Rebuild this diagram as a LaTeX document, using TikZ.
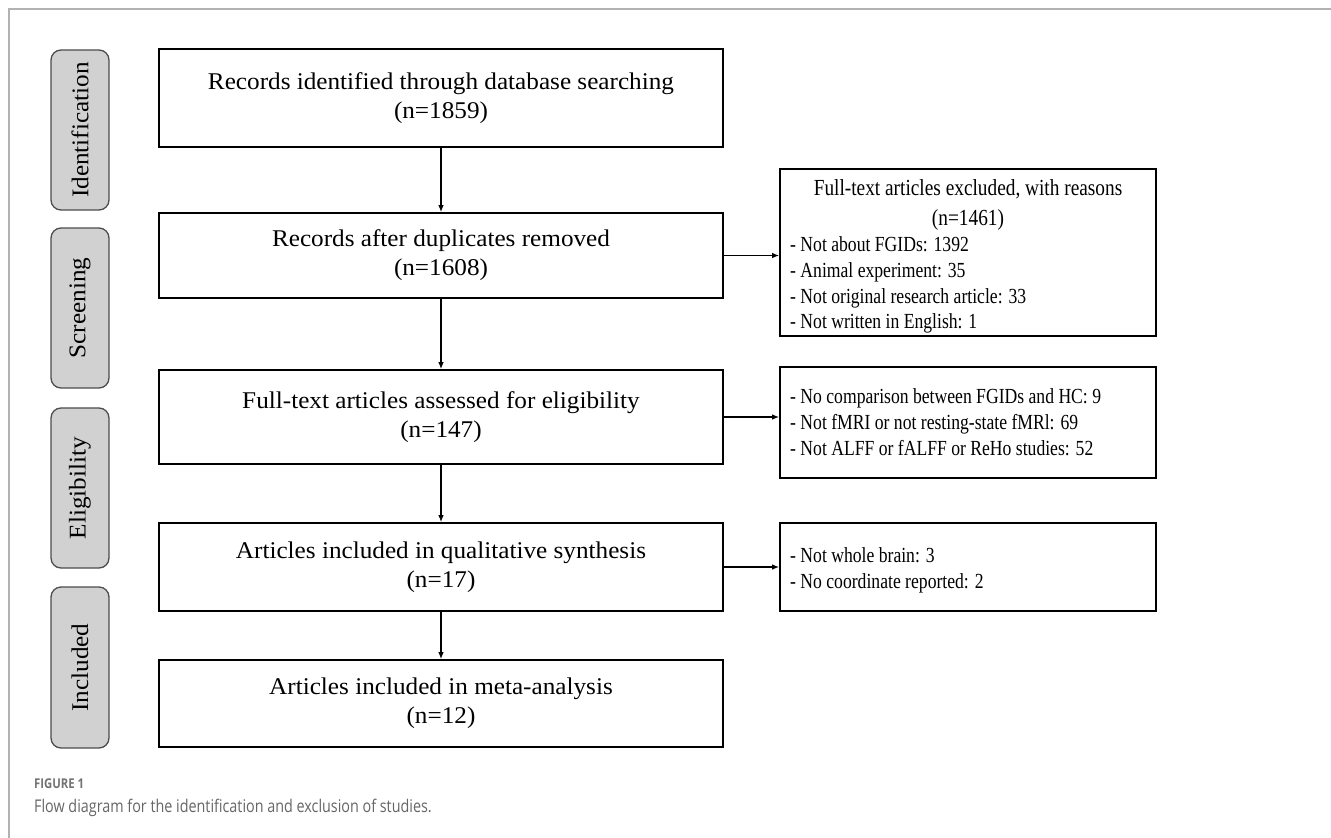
\documentclass[tikz,border=0pt]{standalone}
\usepackage{fontspec}
\setmainfont{Liberation Serif}
\newfontfamily\mainf[FakeStretch=1.05]{Liberation Serif}
\newfontfamily\sidef[FakeStretch=0.82]{Liberation Serif}
\newfontfamily\titf[FakeStretch=0.84]{Liberation Serif}
\newfontfamily\capf[FakeStretch=0.82]{Open Sans}
\newfontfamily\figf[FakeStretch=0.84]{Open Sans}
\usetikzlibrary{arrows.meta}
\begin{document}
\begin{tikzpicture}[x=1pt,y=-1pt,
  stage/.style={draw=black!70, fill=black!18, rounded corners=10pt, line width=1.3pt,
    rotate=90, inner sep=0pt, font=\mainf\fontsize{24}{28}\selectfont},
  mainbox/.style={draw, line width=1.6pt, align=center, inner sep=0pt,
    font=\mainf\fontsize{24}{29}\selectfont},
  sidebox/.style={draw, line width=1.6pt, inner sep=0pt},
  sideline/.style={anchor=base west, inner sep=0pt, font=\sidef\fontsize{21.5}{25}\selectfont},
  sidetitle/.style={anchor=base, inner sep=0pt, font=\titf\fontsize{23}{27}\selectfont},
  arr/.style={-{Latex[length=7pt,width=5.5pt]}, line width=1.3pt}]
\useasboundingbox (0,0) rectangle (1331,838);
\draw[black!30, line width=1.3pt] (9,838) -- (9,9) -- (1331,9);

% stage labels
\node[stage, minimum width=160pt, minimum height=58pt] (s1) at (80,130) {Identification};
\node[stage, minimum width=160pt, minimum height=58pt] (s2) at (80,308) {Screening};
\node[stage, minimum width=160pt, minimum height=58pt] (s3) at (80,488) {Eligibility};
\node[stage, minimum width=161pt, minimum height=58pt] (s4) at (80,667.5) {Included};

% main boxes
\node[mainbox, minimum width=564pt, minimum height=98pt] (b1) at (441,98)
  {Records identified through database searching\\(n=1859)};
\node[mainbox, minimum width=564pt, minimum height=85pt] (b2) at (441,255.5)
  {Records after duplicates removed\\(n=1608)};
\node[mainbox, minimum width=564pt, minimum height=94pt] (b3) at (441,417)
  {Full-text articles assessed for eligibility\\(n=147)};
\node[mainbox, minimum width=564pt, minimum height=88pt] (b4) at (441,567)
  {Articles included in qualitative synthesis\\(n=17)};
\node[mainbox, minimum width=564pt, minimum height=87pt] (b5) at (441,703.5)
  {Articles included in meta-analysis\\(n=12)};

% side box 1
\node[sidebox, minimum width=376pt, minimum height=167pt] (r1) at (968,252.5) {};
\node[sidetitle] (r1t1) at (968,195) {Full-text articles excluded, with reasons};
\node[sidetitle] (r1t2) at (968,225) {(n=1461)};
\node[sideline] (r1a) at (790,251) {- Not about FGIDs: 1392};
\node[sideline] (r1b) at (790,277) {- Animal experiment: 35};
\node[sideline] (r1c) at (790,303) {- Not original research article: 33};
\node[sideline] (r1d) at (790,328) {- Not written in English: 1};

% side box 2
\node[sidebox, minimum width=376pt, minimum height=111pt] (r2) at (968,422.5) {};
\node[sideline] (r2a) at (790,403) {- No comparison between FGIDs and HC: 9};
\node[sideline] (r2b) at (790,429) {- Not fMRI or not resting-state fMRl: 69};
\node[sideline] (r2c) at (790,455) {- Not ALFF or fALFF or ReHo studies: 52};

% side box 3
\node[sidebox, minimum width=376pt, minimum height=88pt] (r3) at (968,567) {};
\node[sideline] (r3a) at (790,562) {- Not whole brain: 3};
\node[sideline] (r3b) at (790,588) {- No coordinate reported: 2};

% arrows
\draw[arr] (b1) -- (b2);
\draw[arr] (b2) -- (b3);
\draw[arr] (b3) -- (b4);
\draw[arr] (b4) -- (b5);
\draw[arr] (b2.east) -- (r1.west |- b2.east);
\draw[arr] (b3.east) -- (r2.west |- b3.east);
\draw[arr] (b4.east) -- (r3.west |- b4.east);

% caption
\node[anchor=base west, inner sep=0pt, text=black!55, font=\figf\bfseries\fontsize{13.5}{15}\selectfont] (fig) at (34,788) {FIGURE 1};
\node[anchor=base west, inner sep=0pt, text=black!60, font=\capf\fontsize{17.5}{20}\selectfont] (cap) at (34,812) {Flow diagram for the identification and exclusion of studies.};
\end{tikzpicture}
\end{document}
